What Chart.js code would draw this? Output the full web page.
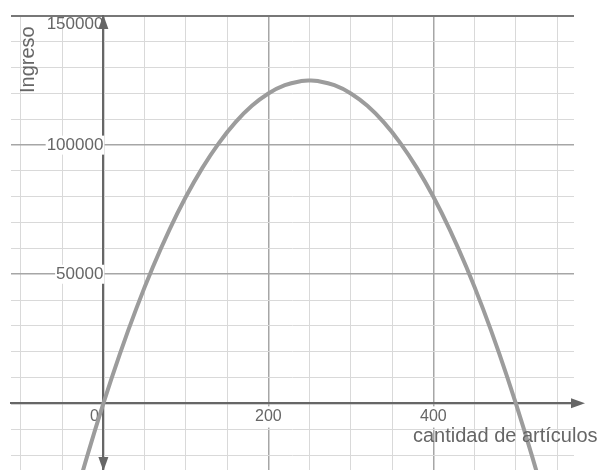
<!DOCTYPE html>
<html>
<head>
<meta charset="utf-8">
<script src="https://cdn.jsdelivr.net/npm/chart.js@4.4.1/dist/chart.umd.min.js"></script>
<style>
    html, body { margin: 0; padding: 0; background: #fff; }
    #wrap { width: 603px; height: 470px; position: relative; }
</style>
</head>
<body>
<div id="wrap"><canvas id="ingresoChart"></canvas></div>
<script>
// Values
const cantidad = [-40, -20, 0, 20, 40, 60, 80, 100, 120, 140, 160, 180, 200, 220, 240, 250,
    260, 280, 300, 320, 340, 360, 380, 400, 420, 440, 460, 480, 500, 520, 540];
const ingreso = [-43200, -20800, 0, 19200, 36800, 52800, 67200, 80000, 91200, 100800, 108800,
    115200, 120000, 123200, 124800, 125000, 124800, 123200, 120000, 115200, 108800, 100800,
    91200, 80000, 67200, 52800, 36800, 19200, 0, -20800, -43200];
const xGrid = [-100, -50, 0, 50, 100, 150, 200, 250, 300, 350, 400, 450, 500, 550];
const yGrid = [-20000, -10000, 0, 10000, 20000, 30000, 40000, 50000, 60000, 70000, 80000,
    90000, 100000, 110000, 120000, 130000, 140000, 150000];
const xTickLabels = [0, 200, 400];
const yTickLabels = [50000, 100000, 150000];

const axisColor = "#666";
const majorGrid = "#a6a6a6";
const minorGrid = "#d9d9d9";

const points = cantidad.map((x, i) => ({ x: x, y: ingreso[i] }));

// centred axes should not eat layout space
function noSpace(scale) {
    if (scale.isHorizontal()) scale.height = 0; else scale.width = 0;
    scale.paddingTop = 0;
    scale.paddingBottom = 0;
    scale.paddingLeft = 0;
    scale.paddingRight = 0;
}

// axis arrows and axis names
const axisExtras = {
    id: "axisExtras",
    afterDraw(chart) {
        const ctx = chart.ctx;
        const xs = chart.scales.x;
        const ys = chart.scales.y;
        const x0 = xs.getPixelForValue(0);
        const y0 = ys.getPixelForValue(0);
        const area = chart.chartArea;
        ctx.save();
        ctx.fillStyle = axisColor;
        ctx.strokeStyle = axisColor;
        ctx.lineWidth = 2;
        // x axis continues past the grid to the arrow
        ctx.beginPath();
        ctx.moveTo(area.right - 1, y0);
        ctx.lineTo(578, y0);
        ctx.stroke();
        ctx.beginPath();
        ctx.moveTo(585, y0);
        ctx.lineTo(571, y0 - 5);
        ctx.lineTo(571, y0 + 5);
        ctx.closePath();
        ctx.fill();
        // y axis up arrow
        ctx.beginPath();
        ctx.moveTo(x0, area.top - 1);
        ctx.lineTo(x0 - 5, area.top + 13);
        ctx.lineTo(x0 + 5, area.top + 13);
        ctx.closePath();
        ctx.fill();
        // y axis down arrow
        ctx.beginPath();
        ctx.moveTo(x0, 471);
        ctx.lineTo(x0 - 5, 457);
        ctx.lineTo(x0 + 5, 457);
        ctx.closePath();
        ctx.fill();

        ctx.fillStyle = "#666";
        ctx.font = "20px 'Liberation Sans', Arial, sans-serif";
        ctx.textAlign = "left";
        ctx.textBaseline = "alphabetic";
        ctx.fillText("cantidad de artículos", 413, 442);

        ctx.translate(34, 93);
        ctx.rotate(-Math.PI / 2);
        ctx.font = "20px 'Liberation Sans', Arial, sans-serif";
        ctx.fillText("Ingreso", 0, 0);
        ctx.restore();
    }
};

new Chart(document.getElementById("ingresoChart"), {
    type: "scatter",
    data: {
        datasets: [{
            label: "Ingreso",
            data: points,
            showLine: true,
            borderColor: "#9c9c9c",
            borderWidth: 4,
            pointRadius: 0,
            tension: 0.4,
            fill: false
        }]
    },
    options: {
        responsive: true,
        maintainAspectRatio: false,
        animation: false,
        layout: {
            autoPadding: false,
            padding: { left: 11, right: 29, top: 16, bottom: 0 }
        },
        plugins: {
            legend: { display: false },
            tooltip: { enabled: false }
        },
        scales: {
            x: {
                type: "linear",
                position: { y: 0 },
                min: -112,
                max: 570.5,
                afterFit: noSpace,
                afterBuildTicks: (scale) => { scale.ticks = xGrid.map(v => ({ value: v })); },
                grid: {
                    drawTicks: false,
                    color: (c) => (c.tick && c.tick.value % 200 === 0) ? majorGrid : minorGrid,
                    lineWidth: (c) => (c.tick && c.tick.value % 200 === 0) ? 1.5 : 1
                },
                border: { color: axisColor, width: 2 },
                ticks: {
                    autoSkip: false,
                    maxRotation: 0,
                    padding: 4,
                    color: "#666",
                    font: { family: "'Liberation Sans', Arial, sans-serif", size: 16 },
                    showLabelBackdrop: (c) => c.tick && (c.tick.value === 200 || c.tick.value === 400),
                    backdropColor: "#fff",
                    backdropPadding: 1,
                    callback: function (value) {
                        if (value === 0) return "0    ";
                        return xTickLabels.includes(value) ? String(value) : "";
                    }
                }
            },
            y: {
                type: "linear",
                position: { x: 0 },
                min: -25800,
                max: 150000,
                afterFit: noSpace,
                afterBuildTicks: (scale) => { scale.ticks = yGrid.map(v => ({ value: v })); },
                grid: {
                    drawTicks: false,
                    color: (c) => {
                        if (!c.tick) return minorGrid;
                        if (c.tick.value === 150000) return "#777";
                        return c.tick.value % 50000 === 0 ? majorGrid : minorGrid;
                    },
                    lineWidth: (c) => {
                        if (!c.tick) return 1;
                        if (c.tick.value === 150000) return 2;
                        return c.tick.value % 50000 === 0 ? 1.5 : 1;
                    }
                },
                border: { color: axisColor, width: 2 },
                ticks: {
                    autoSkip: false,
                    padding: 4,
                    color: "#666",
                    font: { family: "'Liberation Sans', Arial, sans-serif", size: 17, lineHeight: 1 },
                    showLabelBackdrop: (c) => c.tick && (c.tick.value === 50000 || c.tick.value === 100000),
                    backdropColor: "#fff",
                    backdropPadding: 1,
                    callback: function (value) {
                        if (value === 150000) return ["", "150000"];
                        return yTickLabels.includes(value) ? String(value) : "";
                    }
                }
            }
        }
    },
    plugins: [axisExtras]
});
</script>
</body>
</html>
